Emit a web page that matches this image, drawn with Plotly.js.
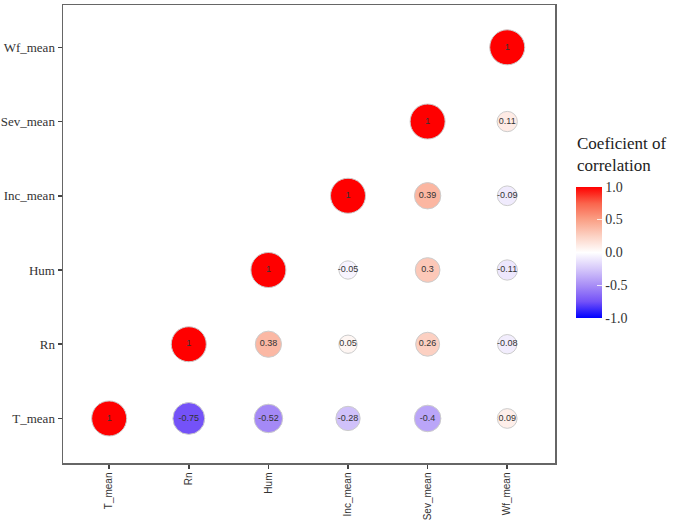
<!DOCTYPE html>
<html>
<head>
<meta charset="utf-8">
<script src="https://cdn.plot.ly/plotly-3.0.1.min.js"></script>
<style>html,body{margin:0;padding:0;background:#fff;}#chart{width:684px;height:524px;}</style>
</head>
<body>
<div id="chart"></div>
<script>
const vars = ['T_mean', 'Rn', 'Hum', 'Inc_mean', 'Sev_mean', 'Wf_mean'];
// upper triangle: row = y variable, column = x variable (null = not drawn)
const rowTmean = [1, -0.75, -0.52, -0.28, -0.4, 0.09];
const rowRn    = [null, 1, 0.38, 0.05, 0.26, -0.08];
const rowHum   = [null, null, 1, -0.05, 0.3, -0.11];
const rowInc   = [null, null, null, 1, 0.39, -0.09];
const rowSev   = [null, null, null, null, 1, 0.11];
const rowWf    = [null, null, null, null, null, 1];
const corr = [rowTmean, rowRn, rowHum, rowInc, rowSev, rowWf];
const barTicks = [-1, -0.5, 0, 0.5, 1];
const barTickText = ['-1.0', '-0.5', '0.0', '0.5', '1.0'];

const xs = [], ys = [], vals = [], labels = [];
corr.forEach((row, i) => {
  row.forEach((v, j) => {
    if (v === null) return;
    xs.push(vars[j]); ys.push(vars[i]); vals.push(v);
    labels.push(String(v));
  });
});
const sizes = vals.map(v => 15 + 20 * Math.pow(Math.abs(v), 0.6));

const colorscale = [
  [0.0, 'rgb(0,0,255)'],
  [0.125, 'rgb(116,82,248)'],
  [0.25, 'rgb(168,142,246)'],
  [0.375, 'rgb(214,200,250)'],
  [0.5, 'rgb(255,255,255)'],
  [0.625, 'rgb(252,210,196)'],
  [0.75, 'rgb(250,160,134)'],
  [0.875, 'rgb(250,100,76)'],
  [1.0, 'rgb(255,0,0)']
];

const trace = {
  type: 'scatter', mode: 'markers+text',
  x: xs, y: ys, text: labels,
  textfont: {family: 'Liberation Sans, Arial, sans-serif', size: 9, color: '#333'},
  textposition: 'middle center',
  hoverinfo: 'x+y+text',
  marker: {
    size: sizes, color: vals, cmin: -1, cmax: 1, colorscale: colorscale,
    line: {color: '#cccccc', width: 1},
    opacity: 1,
    showscale: true,
    colorbar: {
      x: 1.043, xanchor: 'left', xpad: 0,
      y: 0.46, yanchor: 'middle', ypad: 0,
      len: 131, lenmode: 'pixels', thickness: 26,
      outlinewidth: 0,
      tickvals: barTicks, ticktext: barTickText,
      ticks: 'inside', ticklen: 5, tickcolor: 'rgba(255,255,255,0.8)',
      tickfont: {family: 'Liberation Serif, Times New Roman, serif', size: 14, color: '#333'}
    }
  },
  showlegend: false
};

const layout = {
  width: 684, height: 524,
  margin: {l: 63, r: 129, t: 5, b: 61},
  paper_bgcolor: '#fff', plot_bgcolor: '#fff',
  xaxis: {
    type: 'category', categoryorder: 'array', categoryarray: vars,
    range: [-0.58, 5.6], showgrid: false, zeroline: false,
    showline: true, mirror: true, linecolor: '#666', linewidth: 1.5,
    ticks: 'outside', ticklen: 4, tickcolor: '#444', tickwidth: 1.5,
    tickangle: -90,
    tickfont: {family: 'Liberation Sans, Arial, sans-serif', size: 10, color: '#333'}
  },
  yaxis: {
    type: 'category', categoryorder: 'array', categoryarray: vars,
    range: [-0.6, 5.57], showgrid: false, zeroline: false,
    showline: true, mirror: true, linecolor: '#666', linewidth: 1.5,
    ticks: 'outside', ticklen: 4, tickcolor: '#444', tickwidth: 1.5,
    tickfont: {family: 'Liberation Serif, Times New Roman, serif', size: 13, color: '#333'}
  },
  annotations: [{
    text: 'Coeficient of<br>correlation',
    xref: 'paper', yref: 'paper', x: 1.04, y: 0.722,
    xanchor: 'left', yanchor: 'top', align: 'left', showarrow: false,
    font: {family: 'Liberation Serif, Times New Roman, serif', size: 17, color: '#222'}
  }]
};

Plotly.newPlot('chart', [trace], layout, {displayModeBar: false, staticPlot: true});
</script>
</body>
</html>
